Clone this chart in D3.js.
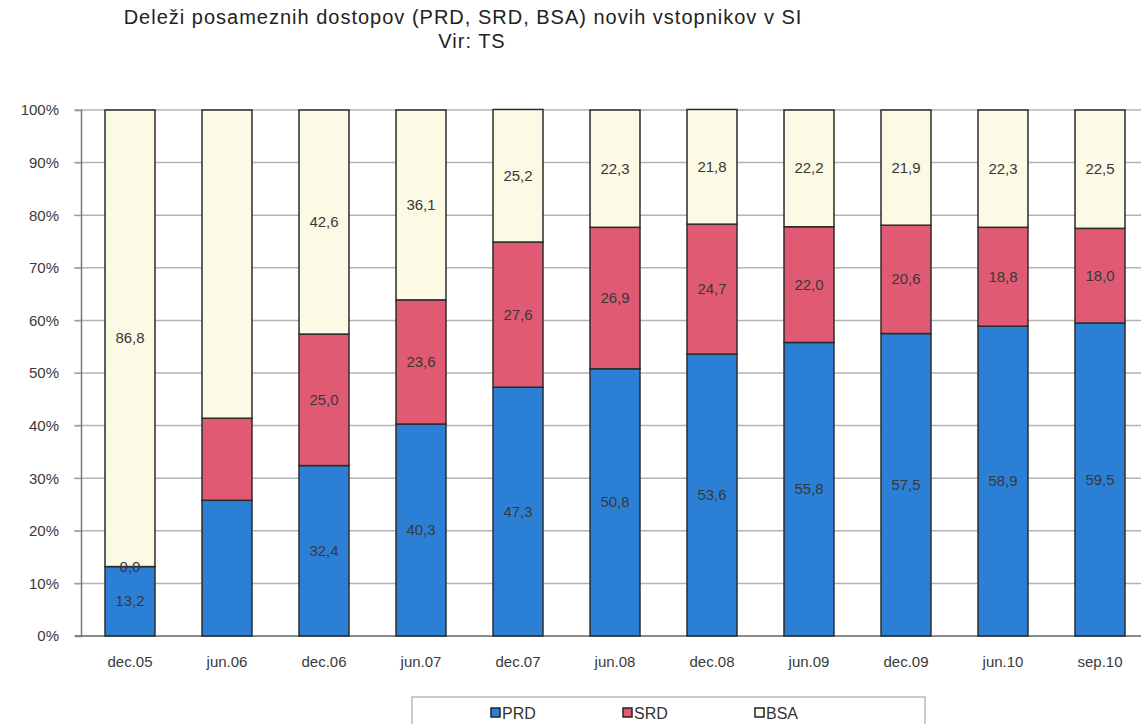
<!DOCTYPE html>
<html>
<head>
  <style type="text/css">
    body { margin: 0; background: #fff; }
    svg { font-family: "Liberation Sans", Arial, sans-serif; }
    .grid line { stroke: #b3b3b3; stroke-width: 1.5px; }
    .bars rect { stroke: #2b2b2b; stroke-width: 1.5px; }
    .vals text { fill: #383838; font-size: 15px; text-anchor: middle; }
  </style>
</head>
<body>
<svg></svg>
<script src="https://d3js.org/d3.v7.min.js"></script>
<script>
    var width = 1141;
    var height = 724;

    /* data */
    var categories = ['dec.05', 'jun.06', 'dec.06', 'jun.07', 'dec.07', 'jun.08', 'dec.08', 'jun.09', 'dec.09', 'jun.10', 'sep.10'];
    var prd = [13.2, 25.8, 32.4, 40.3, 47.3, 50.8, 53.6, 55.8, 57.5, 58.9, 59.5];
    var srd = [0.0, 15.6, 25.0, 23.6, 27.6, 26.9, 24.7, 22.0, 20.6, 18.8, 18.0];
    var bsa = [86.8, 58.6, 42.6, 36.1, 25.2, 22.3, 21.8, 22.2, 21.9, 22.3, 22.5];
    var showLabels = [true, false, true, true, true, true, true, true, true, true, true];
    var seriesNames = ['PRD', 'SRD', 'BSA'];
    var seriesColors = ['#2b80d6', '#e05a74', '#fcf9e4'];
    var yTicks = [0, 10, 20, 30, 40, 50, 60, 70, 80, 90, 100];

    var rows = categories.map(function(c, i) {
      return { cat: c, PRD: prd[i], SRD: srd[i], BSA: bsa[i], show: showLabels[i] };
    });

    var svg = d3.select('svg')
      .attr('width', width)
      .attr('height', height);

    var x = d3.scaleBand().domain(categories).range([81.5, 1148.5]).paddingInner(0.485).paddingOuter(0.2425);
    var y = d3.scaleLinear().domain([0, 100]).range([636, 110]);

    // title
    svg.append('text').attr('x', 463).attr('y', 24).attr('text-anchor', 'middle')
      .attr('font-size', 20).attr('letter-spacing', 1).attr('fill', '#222')
      .text('Deleži posameznih dostopov (PRD, SRD, BSA) novih vstopnikov v SI');
    svg.append('text').attr('x', 472).attr('y', 48).attr('text-anchor', 'middle')
      .attr('font-size', 20).attr('letter-spacing', 1).attr('fill', '#222')
      .text('Vir: TS');

    // grid
    svg.append('g').attr('class', 'grid')
      .selectAll('line').data(yTicks).enter().append('line')
      .attr('x1', 74).attr('x2', width)
      .attr('y1', function(d) { return y(d); })
      .attr('y2', function(d) { return y(d); });

    // y axis
    var yAxis = svg.append('g').attr('transform', 'translate(81,0)')
      .call(d3.axisLeft(y).tickValues(yTicks).tickSize(6).tickFormat(function(d) { return d + '%'; }));
    yAxis.select('.domain').attr('stroke', '#777').attr('stroke-width', 1.5);
    yAxis.selectAll('.tick line').attr('stroke', '#999');
    yAxis.selectAll('text').attr('font-size', 15).attr('fill', '#3a3a3a').attr('x', -22)
      .attr('font-family', '"Liberation Sans", Arial, sans-serif');

    // x axis
    var xAxis = svg.append('g').attr('transform', 'translate(0,636)')
      .call(d3.axisBottom(x).tickSize(0).tickPadding(20));
    xAxis.select('.domain').attr('stroke', '#777').attr('stroke-width', 1.5).attr('d', 'M75,0H' + width);
    xAxis.selectAll('text').attr('font-size', 15).attr('fill', '#3a3a3a')
      .attr('font-family', '"Liberation Sans", Arial, sans-serif');

    // stacked bars
    var stack = d3.stack().keys(seriesNames);
    var layers = stack(rows);

    var g = svg.append('g').attr('class', 'bars');
    layers.forEach(function(layer, k) {
      g.selectAll('rect.s' + k).data(layer).enter().append('rect')
        .attr('class', 's' + k)
        .attr('x', function(d) { return x(d.data.cat); })
        .attr('width', x.bandwidth())
        .attr('y', function(d) { return y(d[1]); })
        .attr('height', function(d) { return Math.max(0, y(d[0]) - y(d[1])); })
        .attr('fill', seriesColors[k]);
    });

    // value labels
    var v = svg.append('g').attr('class', 'vals');
    layers.forEach(function(layer, k) {
      v.selectAll('text.s' + k).data(layer.filter(function(d) { return d.data.show; })).enter().append('text')
        .attr('x', function(d) { return x(d.data.cat) + x.bandwidth() / 2; })
        .attr('y', function(d) { return (y(d[0]) + y(d[1])) / 2 + 5; })
        .text(function(d) { return (d[1] - d[0]).toFixed(1).replace('.', ','); });
    });

    // legend
    var leg = svg.append('g');
    leg.append('rect').attr('x', 412).attr('y', 697).attr('width', 513).attr('height', 40)
      .attr('fill', '#fff').attr('stroke', '#bbb').attr('stroke-width', 1.5);
    var legX = d3.scalePoint().domain(seriesNames).range([491, 755]);
    seriesNames.forEach(function(n, k) {
      leg.append('rect').attr('x', legX(n)).attr('y', 708).attr('width', 9).attr('height', 9)
        .attr('fill', seriesColors[k]).attr('stroke', '#222').attr('stroke-width', 1.5);
      leg.append('text').attr('x', legX(n) + 11).attr('y', 719)
        .attr('font-size', 16).attr('fill', '#333').text(n);
    });
</script>
</body>
</html>
